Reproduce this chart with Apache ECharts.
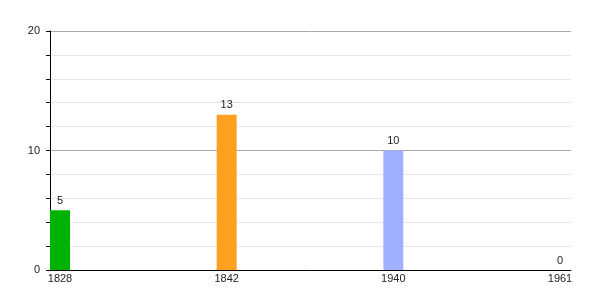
<!DOCTYPE html>
<html>
<head>
<meta charset="utf-8">
<script src="https://cdn.jsdelivr.net/npm/echarts@6/dist/echarts.min.js"></script>
<style>html,body{margin:0;padding:0;background:#fff}#c{width:600px;height:300px}</style>
</head>
<body>
<div id="c"></div>
<script>
const categories = ['1828', '1842', '1940', '1961'];
const values = [5, 13, 10, 0];
const colors = ['#00b300', '#ffa020', '#a0b0ff', '#888888'];
const yTickLabels = [0, 10, 20];

const chart = echarts.init(document.getElementById('c'), null, {renderer: 'canvas'});
const font = 'Liberation Sans, Arial, sans-serif';
chart.setOption({
  animation: false,
  grid: {left: 50, right: 29, top: 31, bottom: 30, containLabel: false},
  xAxis: {
    type: 'value',
    min: -0.06,
    max: 3.066,
    axisLine: {show: true, onZero: false, lineStyle: {color: '#000', width: 1}},
    axisTick: {show: false},
    splitLine: {show: false},
    axisLabel: {
      customValues: categories.map((c, i) => i),
      formatter: v => categories[Math.round(v)],
      color: '#222', fontSize: 11, fontFamily: font, margin: 3
    }
  },
  yAxis: {
    type: 'value',
    min: 0, max: 20, interval: 2,
    axisLine: {show: true, onZero: false, lineStyle: {color: '#000', width: 1}},
    axisTick: {show: true, length: 4, lineStyle: {color: '#000'}},
    axisLabel: {
      customValues: yTickLabels,
      color: '#222', fontSize: 11, fontFamily: font, margin: 10
    },
    splitLine: {show: true, lineStyle: {color: ['#aaaaaa', '#e6e6e6', '#e6e6e6', '#e6e6e6', '#e6e6e6'], width: 1}}
  },
  series: [{
    type: 'bar',
    barWidth: 20,
    data: values.map((v, i) => ({value: [i, v], itemStyle: {color: colors[i]}})),
    label: {show: true, position: 'top', distance: 4, color: '#222', fontSize: 11, fontFamily: font,
      formatter: p => p.value[1]}
  }]
});
</script>
</body>
</html>
